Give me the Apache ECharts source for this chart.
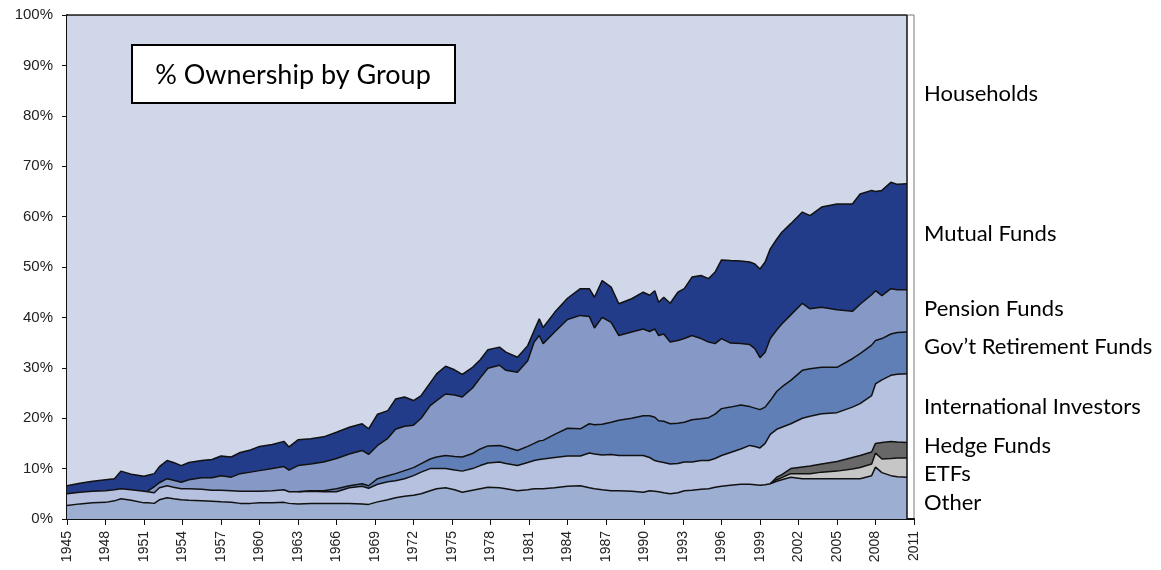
<!DOCTYPE html>
<html>
<head>
<meta charset="utf-8">
<script src="https://cdn.jsdelivr.net/npm/echarts@6/dist/echarts.min.js"></script>
<style>
  html, body { margin: 0; padding: 0; background: #fff; }
  #chart { width: 1161px; height: 570px; }
</style>
</head>
<body>
<div id="chart"></div>
<script>
// x positions of the readings (fractional years)
const years = [
  1945.0, 1946.0, 1947.0, 1948.0, 1948.7, 1949.2, 1950.0, 1951.0, 1951.3, 1951.8,
  1952.2, 1952.8, 1953.3, 1953.9, 1954.5, 1955.5, 1956.3, 1957.0, 1957.8, 1958.5,
  1959.3, 1960.0, 1961.0, 1961.9, 1962.3, 1963.0, 1964.0, 1965.0, 1966.0, 1967.0,
  1968.0, 1968.5, 1969.2, 1970.0, 1970.6, 1971.3, 1972.0, 1972.6, 1973.3, 1973.8,
  1974.5, 1975.2, 1975.8, 1976.6, 1977.2, 1977.8, 1978.7, 1979.2, 1980.1, 1980.9,
  1981.4, 1981.8, 1982.1, 1983.0, 1984.0, 1985.0, 1985.7, 1986.1, 1986.7, 1987.4,
  1988.0, 1989.0, 1989.9, 1990.4, 1990.8, 1991.1, 1991.5, 1992.0, 1992.6, 1993.1,
  1993.7, 1994.4, 1995.0, 1995.5, 1996.0, 1996.7, 1997.5, 1998.2, 1998.6, 1999.0,
  1999.4, 1999.8, 2000.3, 2000.7, 2001.4, 2002.3, 2002.9, 2003.8, 2005.0, 2006.2,
  2006.8, 2007.7, 2008.0, 2008.5, 2009.2, 2009.7, 2010.45
]

// upper edge of each band, cumulative % (null = band not present yet)
const otherTop = [
  2.7, 3.0, 3.2, 3.3, 3.6, 4.0, 3.7, 3.2, 3.2, 3.1,
  3.8, 4.2, 4.0, 3.8, 3.7, 3.6, 3.5, 3.4, 3.3, 3.1,
  3.1, 3.2, 3.2, 3.3, 3.1, 3.0, 3.1, 3.1, 3.1, 3.1,
  3.0, 2.9, 3.4, 3.8, 4.2, 4.5, 4.7, 5.0, 5.6, 6.0,
  6.2, 5.8, 5.3, 5.7, 6.0, 6.3, 6.2, 6.0, 5.6, 5.8,
  6.0, 6.0, 6.0, 6.2, 6.5, 6.6, 6.2, 6.0, 5.8, 5.6,
  5.6, 5.5, 5.3, 5.6, 5.5, 5.4, 5.2, 5.0, 5.2, 5.6,
  5.7, 5.9, 6.0, 6.3, 6.5, 6.7, 6.9, 6.9, 6.8, 6.7,
  6.8, 7.0, 7.5, 7.8, 8.3, 8.0, 8.0, 8.0, 8.0, 8.0,
  8.0, 8.6, 10.3, 9.2, 8.6, 8.4, 8.3
]

const etfTop = [
  null, null, null, null, null, null, null, null, null, null,
  null, null, null, null, null, null, null, null, null, null,
  null, null, null, null, null, null, null, null, null, null,
  null, null, null, null, null, null, null, null, null, null,
  null, null, null, null, null, null, null, null, null, null,
  null, null, null, null, null, null, null, null, null, null,
  null, null, null, null, null, null, null, null, null, null,
  null, null, null, null, null, null, null, null, null, null,
  null, 7.0, 7.8, 8.2, 9.0, 9.0, 9.0, 9.3, 9.5, 9.9,
  10.2, 10.9, 13.1, 11.9, 12.0, 12.1, 12.1
]

const hedgeTop = [
  null, null, null, null, null, null, null, null, null, null,
  null, null, null, null, null, null, null, null, null, null,
  null, null, null, null, null, null, null, null, null, null,
  null, null, null, null, null, null, null, null, null, null,
  null, null, null, null, null, null, null, null, null, null,
  null, null, null, null, null, null, null, null, null, null,
  null, null, null, null, null, null, null, null, null, null,
  null, null, null, null, null, null, null, null, null, null,
  null, 7.0, 8.3, 8.8, 10.0, 10.3, 10.5, 10.9, 11.4, 12.2,
  12.6, 13.3, 15.0, 15.2, 15.4, 15.3, 15.2
]

const intlTop = [
  5.0, 5.3, 5.5, 5.6, 5.8, 6.0, 5.8, 5.5, 5.4, 5.2,
  6.2, 6.6, 6.3, 6.0, 6.0, 5.9, 5.7, 5.7, 5.6, 5.5,
  5.5, 5.5, 5.6, 5.8, 5.4, 5.4, 5.5, 5.4, 5.4, 6.2,
  6.5, 6.1, 6.9, 7.4, 7.6, 8.0, 8.6, 9.3, 10.0, 10.0,
  10.0, 9.7, 9.5, 10.0, 10.6, 11.1, 11.3, 11.0, 10.6, 11.2,
  11.6, 11.8, 11.9, 12.2, 12.5, 12.5, 13.1, 12.9, 12.7, 12.8,
  12.6, 12.6, 12.6, 12.2, 11.6, 11.4, 11.2, 10.9, 11.0, 11.3,
  11.3, 11.6, 11.6, 12.0, 12.6, 13.2, 13.9, 14.6, 14.4, 14.1,
  15.0, 16.8, 17.8, 18.2, 18.9, 20.0, 20.4, 20.9, 21.1, 22.2,
  22.9, 24.5, 26.8, 27.6, 28.5, 28.7, 28.8
]

const govTop = [
  null, null, null, null, null, null, null, null, null, null,
  null, null, null, null, null, null, null, null, null, null,
  null, null, null, null, null, 5.4, 5.6, 5.6, 6.0, 6.6,
  7.0, 6.6, 8.0, 8.6, 9.0, 9.6, 10.2, 11.0, 11.9, 12.3,
  12.6, 12.4, 12.3, 13.0, 13.9, 14.5, 14.6, 14.3, 13.6, 14.4,
  15.0, 15.5, 15.6, 16.8, 18.0, 17.9, 18.9, 18.7, 18.8, 19.2,
  19.6, 20.0, 20.5, 20.5, 20.2, 19.5, 19.4, 18.9, 19.0, 19.2,
  19.7, 19.9, 20.1, 20.8, 21.9, 22.2, 22.6, 22.3, 22.0, 21.7,
  22.2, 23.5, 25.3, 26.2, 27.5, 29.5, 29.8, 30.1, 30.1, 31.8,
  32.8, 34.5, 35.4, 35.8, 36.7, 37.0, 37.1
]

const pensionTop = [
  null, null, null, null, null, null, null, null, 5.6, 6.4,
  7.2, 8.0, 7.7, 7.3, 7.8, 8.2, 8.2, 8.6, 8.3, 9.0,
  9.3, 9.6, 10.0, 10.4, 9.7, 10.6, 10.9, 11.3, 12.0, 12.9,
  13.6, 12.8, 14.6, 16.0, 17.8, 18.4, 18.6, 20.0, 22.5, 23.5,
  24.8, 24.6, 24.2, 26.0, 28.0, 29.9, 30.5, 29.5, 29.1, 31.4,
  35.1, 36.4, 34.8, 37.1, 39.6, 40.4, 40.2, 37.9, 40.0, 39.0,
  36.4, 37.1, 37.7, 37.2, 37.7, 36.4, 36.7, 35.1, 35.4, 35.8,
  36.4, 35.8, 35.1, 34.8, 35.8, 34.9, 34.8, 34.6, 33.8, 32.0,
  33.1, 35.8, 37.5, 38.7, 40.5, 42.8, 41.7, 42.0, 41.5, 41.2,
  42.6, 44.5, 45.3, 44.3, 45.7, 45.5, 45.5
]

const mutualTop = [
  6.6, 7.1, 7.5, 7.8, 8.0, 9.5, 8.9, 8.5, 8.7, 9.0,
  10.4, 11.6, 11.2, 10.6, 11.2, 11.6, 11.8, 12.5, 12.3, 13.2,
  13.7, 14.4, 14.8, 15.4, 14.3, 15.7, 15.9, 16.3, 17.2, 18.2,
  18.9, 17.9, 20.8, 21.5, 23.8, 24.2, 23.5, 24.5, 27.0, 28.8,
  30.3, 29.6, 28.7, 30.1, 31.6, 33.6, 34.1, 33.1, 32.1, 34.4,
  37.4, 39.7, 38.0, 41.0, 43.8, 45.7, 45.7, 44.0, 47.3, 46.0,
  42.7, 43.7, 45.0, 44.4, 45.3, 43.0, 44.0, 42.8, 45.0, 45.7,
  48.0, 48.3, 47.7, 49.0, 51.4, 51.3, 51.2, 51.0, 50.6, 49.6,
  51.0, 53.6, 55.5, 56.9, 58.6, 60.9, 60.2, 61.9, 62.5, 62.5,
  64.5, 65.2, 65.0, 65.2, 66.8, 66.4, 66.5
]

// households hold the rest, so their band reaches 100%
const householdsTop = years.map(() => 100)

const firstYear = 1945
const lastTick = 2011

// drawn back to front: each band is filled down to 0 and covered by the next one
const bands = [
  { name: 'Households', top: householdsTop, color: '#d0d7e8' },
  { name: 'Mutual Funds', top: mutualTop, color: '#223c89' },
  { name: 'Pension Funds', top: pensionTop, color: '#8699c6' },
  { name: 'Gov’t Retirement Funds', top: govTop, color: '#607fb7' },
  { name: 'International Investors', top: intlTop, color: '#b5c1de' },
  { name: 'Hedge Funds', top: hedgeTop, color: '#686868' },
  { name: 'ETFs', top: etfTop, color: '#c6c6c6' },
  { name: 'Other', top: otherTop, color: '#9daed3' }
]

// right-hand labels (text, vertical centre)
const sideLabels = [
  ['Households', 94],
  ['Mutual Funds', 234],
  ['Pension Funds', 309],
  ['Gov’t Retirement Funds', 347],
  ['International Investors', 407],
  ['Hedge Funds', 446],
  ['ETFs', 474],
  ['Other', 503]
]

const chart = echarts.init(document.getElementById('chart'), null, { renderer: 'canvas' })

const lastX = years[years.length - 1] - firstYear

const series = bands.map((b, idx) => {
  const s = {
    type: 'line',
    name: b.name,
    data: years.map((y, i) => [y - firstYear, b.top[i]]),
    symbol: 'none',
    connectNulls: false,
    lineStyle: { color: '#111', width: 1.5 },
    areaStyle: { color: b.color, opacity: 1 },
    silent: true
  }
  if (idx === 0) {
    // dark edge where the data stops
    s.markLine = {
      silent: true,
      symbol: ['none', 'none'],
      label: { show: false },
      lineStyle: { color: '#111', width: 1.5, type: 'solid' },
      data: [{ xAxis: lastX }]
    }
  }
  return s
})

const option = {
  animation: false,
  backgroundColor: '#fff',
  grid: {
    left: 67,
    right: 247,
    top: 15,
    bottom: 51,
    show: true,
    borderColor: '#777',
    borderWidth: 1,
    backgroundColor: 'transparent'
  },
  xAxis: {
    type: 'value',
    min: 0,
    max: lastTick - firstYear,
    interval: 3,
    splitLine: { show: false },
    axisLine: { show: true, onZero: false, lineStyle: { color: '#111', width: 2 } },
    axisTick: { show: true, length: 6, lineStyle: { color: '#111', width: 1 } },
    axisLabel: {
      rotate: 90,
      margin: 12,
      fontFamily: 'Liberation Sans, Arial, sans-serif',
      fontSize: 14,
      color: '#222',
      formatter: v => String(firstYear + v)
    }
  },
  yAxis: {
    type: 'value',
    min: 0,
    max: 100,
    interval: 10,
    splitLine: { show: false },
    axisLine: { show: true, lineStyle: { color: '#111', width: 2 } },
    axisTick: { show: true, length: 5, lineStyle: { color: '#111', width: 1 } },
    axisLabel: {
      margin: 14,
      fontFamily: 'Liberation Sans, Arial, sans-serif',
      fontSize: 15,
      color: '#222',
      formatter: '{value}%'
    }
  },
  series: series,
  graphic: [
    {
      type: 'rect',
      shape: { x: 132, y: 45, width: 323, height: 58 },
      style: { fill: '#fff', stroke: '#000', lineWidth: 2 },
      z: 100
    },
    {
      type: 'text',
      x: 293,
      y: 75,
      style: {
        text: '% Ownership by Group',
        font: '27px Lato, "Open Sans", sans-serif',
        fill: '#000',
        align: 'center',
        verticalAlign: 'middle'
      },
      z: 101
    }
  ].concat(sideLabels.map(([t, y]) => ({
    type: 'text',
    x: 924,
    y: y,
    style: {
      text: t,
      font: '22px Lato, "Open Sans", sans-serif',
      fill: '#000',
      align: 'left',
      verticalAlign: 'middle'
    }
  })))
}

chart.setOption(option)
</script>
</body>
</html>
